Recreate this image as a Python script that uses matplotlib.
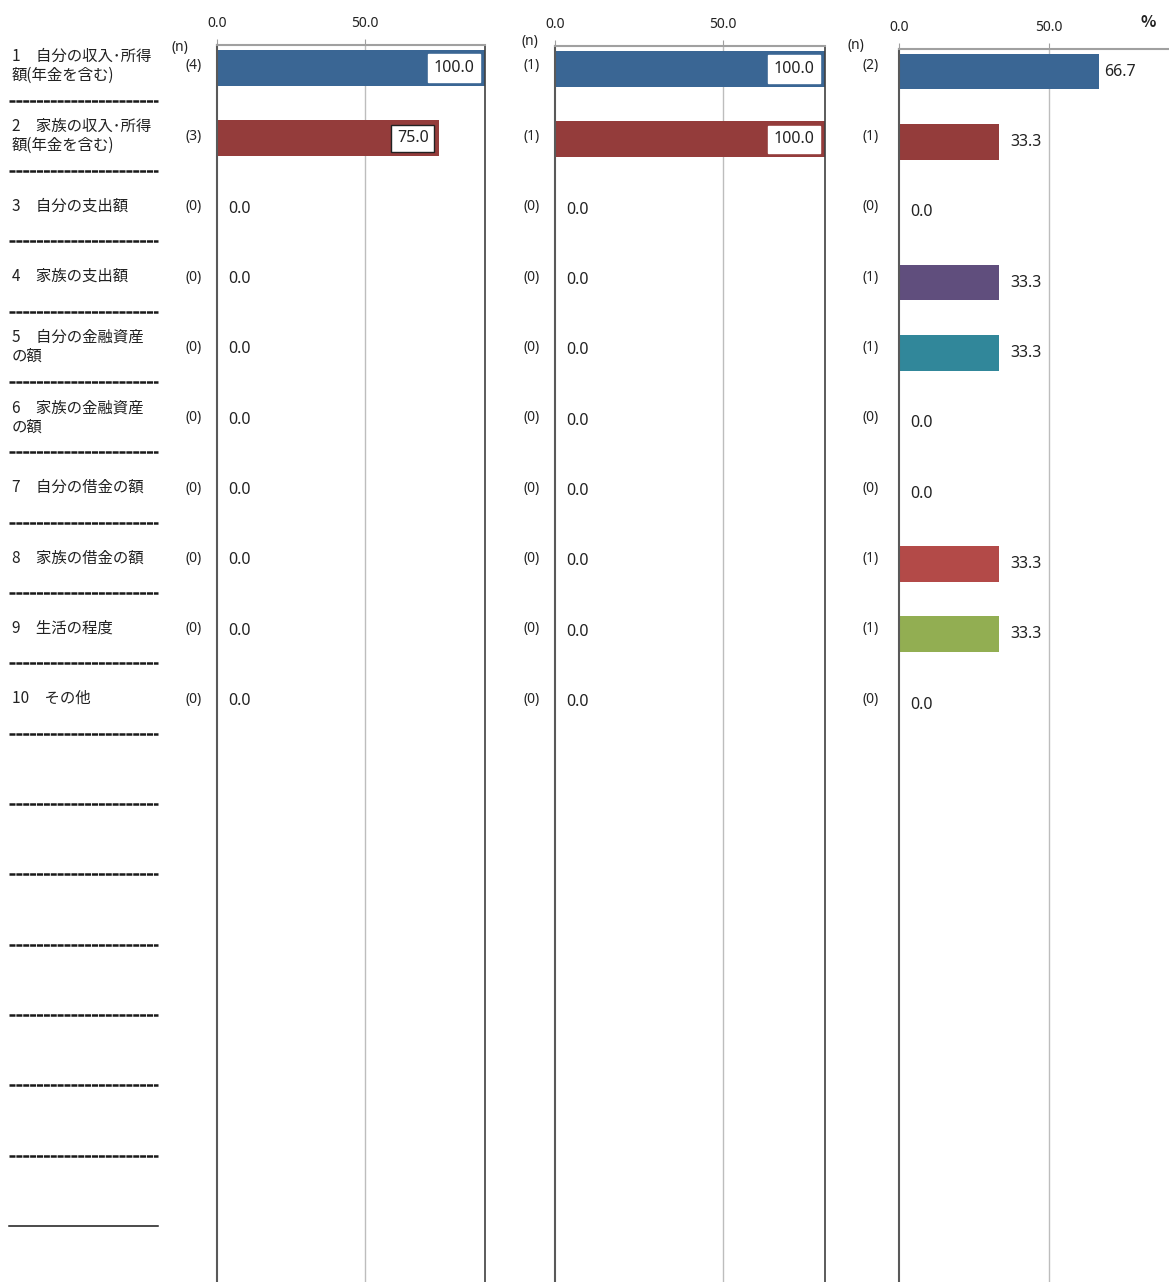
import matplotlib
matplotlib.use("Agg")
import matplotlib.pyplot as plt
import numpy as np

plt.rcParams['font.family'] = ['Noto Sans CJK JP', 'DejaVu Sans']
NUMFONT = ['Noto Sans', 'DejaVu Sans']

# ---------------- data ----------------
categories = [
    "1　自分の収入･所得\n額(年金を含む)",
    "2　家族の収入･所得\n額(年金を含む)",
    "3　自分の支出額",
    "4　家族の支出額",
    "5　自分の金融資産\nの額",
    "6　家族の金融資産\nの額",
    "7　自分の借金の額",
    "8　家族の借金の額",
    "9　生活の程度",
    "10　その他",
]
n_panel1 = [4, 3, 0, 0, 0, 0, 0, 0, 0, 0]
n_panel2 = [1, 1, 0, 0, 0, 0, 0, 0, 0, 0]
n_panel3 = [2, 1, 0, 1, 1, 0, 0, 1, 1, 0]
vals_panel1 = [100.0, 75.0, 0.0, 0.0, 0.0, 0.0, 0.0, 0.0, 0.0, 0.0]
vals_panel2 = [100.0, 100.0, 0.0, 0.0, 0.0, 0.0, 0.0, 0.0, 0.0, 0.0]
vals_panel3 = [66.7, 33.3, 0.0, 33.3, 33.3, 0.0, 0.0, 33.3, 33.3, 0.0]
bar_colors = ["#3A6694", "#943C3B", "#4F81BD", "#604E7D", "#31879A",
              "#F79646", "#8064A2", "#B34A48", "#92AE52", "#4BACC6"]
tick_values = [0, 50]
tick_labels = ["0.0", "50.0"]

# ---------------- layout ----------------
W, H = 1169, 1282
fig = plt.figure(figsize=(W / 100, H / 100), dpi=100)
pitch = 70.35
n_slots = 17

# overlay axes in pixel coordinates for the label column
axl = fig.add_axes([0, 0, 1, 1])
axl.set_xlim(0, W)
axl.set_ylim(H, 0)
axl.axis("off")

label_y0 = 65.5
for i, cat in enumerate(categories):
    axl.text(12, label_y0 + pitch * i, cat, fontsize=11.1, va="center", ha="left",
             color="#222222", linespacing=1.15)
sep_y0 = 100.5
for k in range(n_slots):
    y = sep_y0 + pitch * k
    if k < n_slots - 1:
        axl.plot([9, 158], [y, y], color="#1a1a1a", lw=1.8, ls=(0, (2.4, 0.35)),
                 solid_capstyle="butt")
    else:
        axl.plot([9, 158], [y, y], color="#1a1a1a", lw=1.1)

panels = [
    dict(vals=vals_panel1, n=n_panel1, left=217, right=485, top=45, c0=68.0,
         xmax=90.54, nx=202, nhead=(180, 47), rspine=True),
    dict(vals=vals_panel2, n=n_panel2, left=555, right=825, top=46, c0=69.0,
         xmax=80.36, nx=540, nhead=(530, 41), rspine=True),
    dict(vals=vals_panel3, n=n_panel3, left=899, right=1169, top=49, c0=71.5,
         xmax=90.0, nx=879, nhead=(856, 46), rspine=False),
]

for p in panels:
    ax = fig.add_axes([p["left"] / W, 0, (p["right"] - p["left"]) / W, (H - p["top"]) / H])
    ax.set_xlim(0, p["xmax"])
    ax.set_ylim((H - p["c0"]) / pitch, (p["top"] - p["c0"]) / pitch)
    y = np.arange(len(p["vals"]))
    ax.barh(y, p["vals"], height=0.51, color=bar_colors[:len(p["vals"])], zorder=2)
    ax.axvline(50, color="#BDBDBD", lw=1.0, zorder=1)
    ax.xaxis.tick_top()
    ax.set_xticks(tick_values)
    ax.set_xticklabels(tick_labels, fontfamily=NUMFONT)
    ax.tick_params(axis="x", top=True, bottom=False, length=4, color="#A0A0A0",
                   labelsize=10, pad=6, labelcolor="#222222")
    ax.set_yticks([])
    ax.spines["bottom"].set_visible(False)
    ax.spines["top"].set_color("#A0A0A0")
    ax.spines["top"].set_linewidth(1.5)
    ax.spines["left"].set_color("#595959")
    ax.spines["left"].set_linewidth(1.5)
    ax.spines["right"].set_visible(p["rspine"])
    ax.spines["right"].set_color("#404040")
    ax.spines["right"].set_linewidth(1.2)
    ax.patch.set_alpha(0)

    for i, v in enumerate(p["vals"]):
        if v >= 70:
            xend = min(v, p["xmax"])
            clipped = v > p["xmax"]
            ax.annotate(f"{v:.1f}", xy=(xend, i), xytext=(-7.5, 0),
                        textcoords="offset points", ha="right", va="center",
                        fontsize=11.5, color="#222222", zorder=4, fontfamily=NUMFONT,
                        bbox=dict(boxstyle="square,pad=0.35", fc="white",
                                  ec="white" if clipped else "#222222", lw=1.0))
        else:
            off = 3.6 if v > 60 else 7.9
            ax.annotate(f"{v:.1f}", xy=(v, i), xytext=(off, 0),
                        textcoords="offset points", ha="left", va="center",
                        fontsize=11.5, color="#222222", zorder=4, fontfamily=NUMFONT)

    # n labels
    for i, nv in enumerate(p["n"]):
        axl.text(p["nx"], 66 + pitch * i, f"({nv})", fontsize=10, ha="right",
                 va="center", color="#222222", fontfamily=NUMFONT)
    axl.text(p["nhead"][0], p["nhead"][1], "(n)", fontsize=10, ha="center",
             va="center", color="#222222", fontfamily=NUMFONT)

axl.text(1148, 22, "%", fontsize=11.5, ha="center", va="center", color="#222222",
         fontweight="bold")

fig.savefig("out.png", dpi=100)
